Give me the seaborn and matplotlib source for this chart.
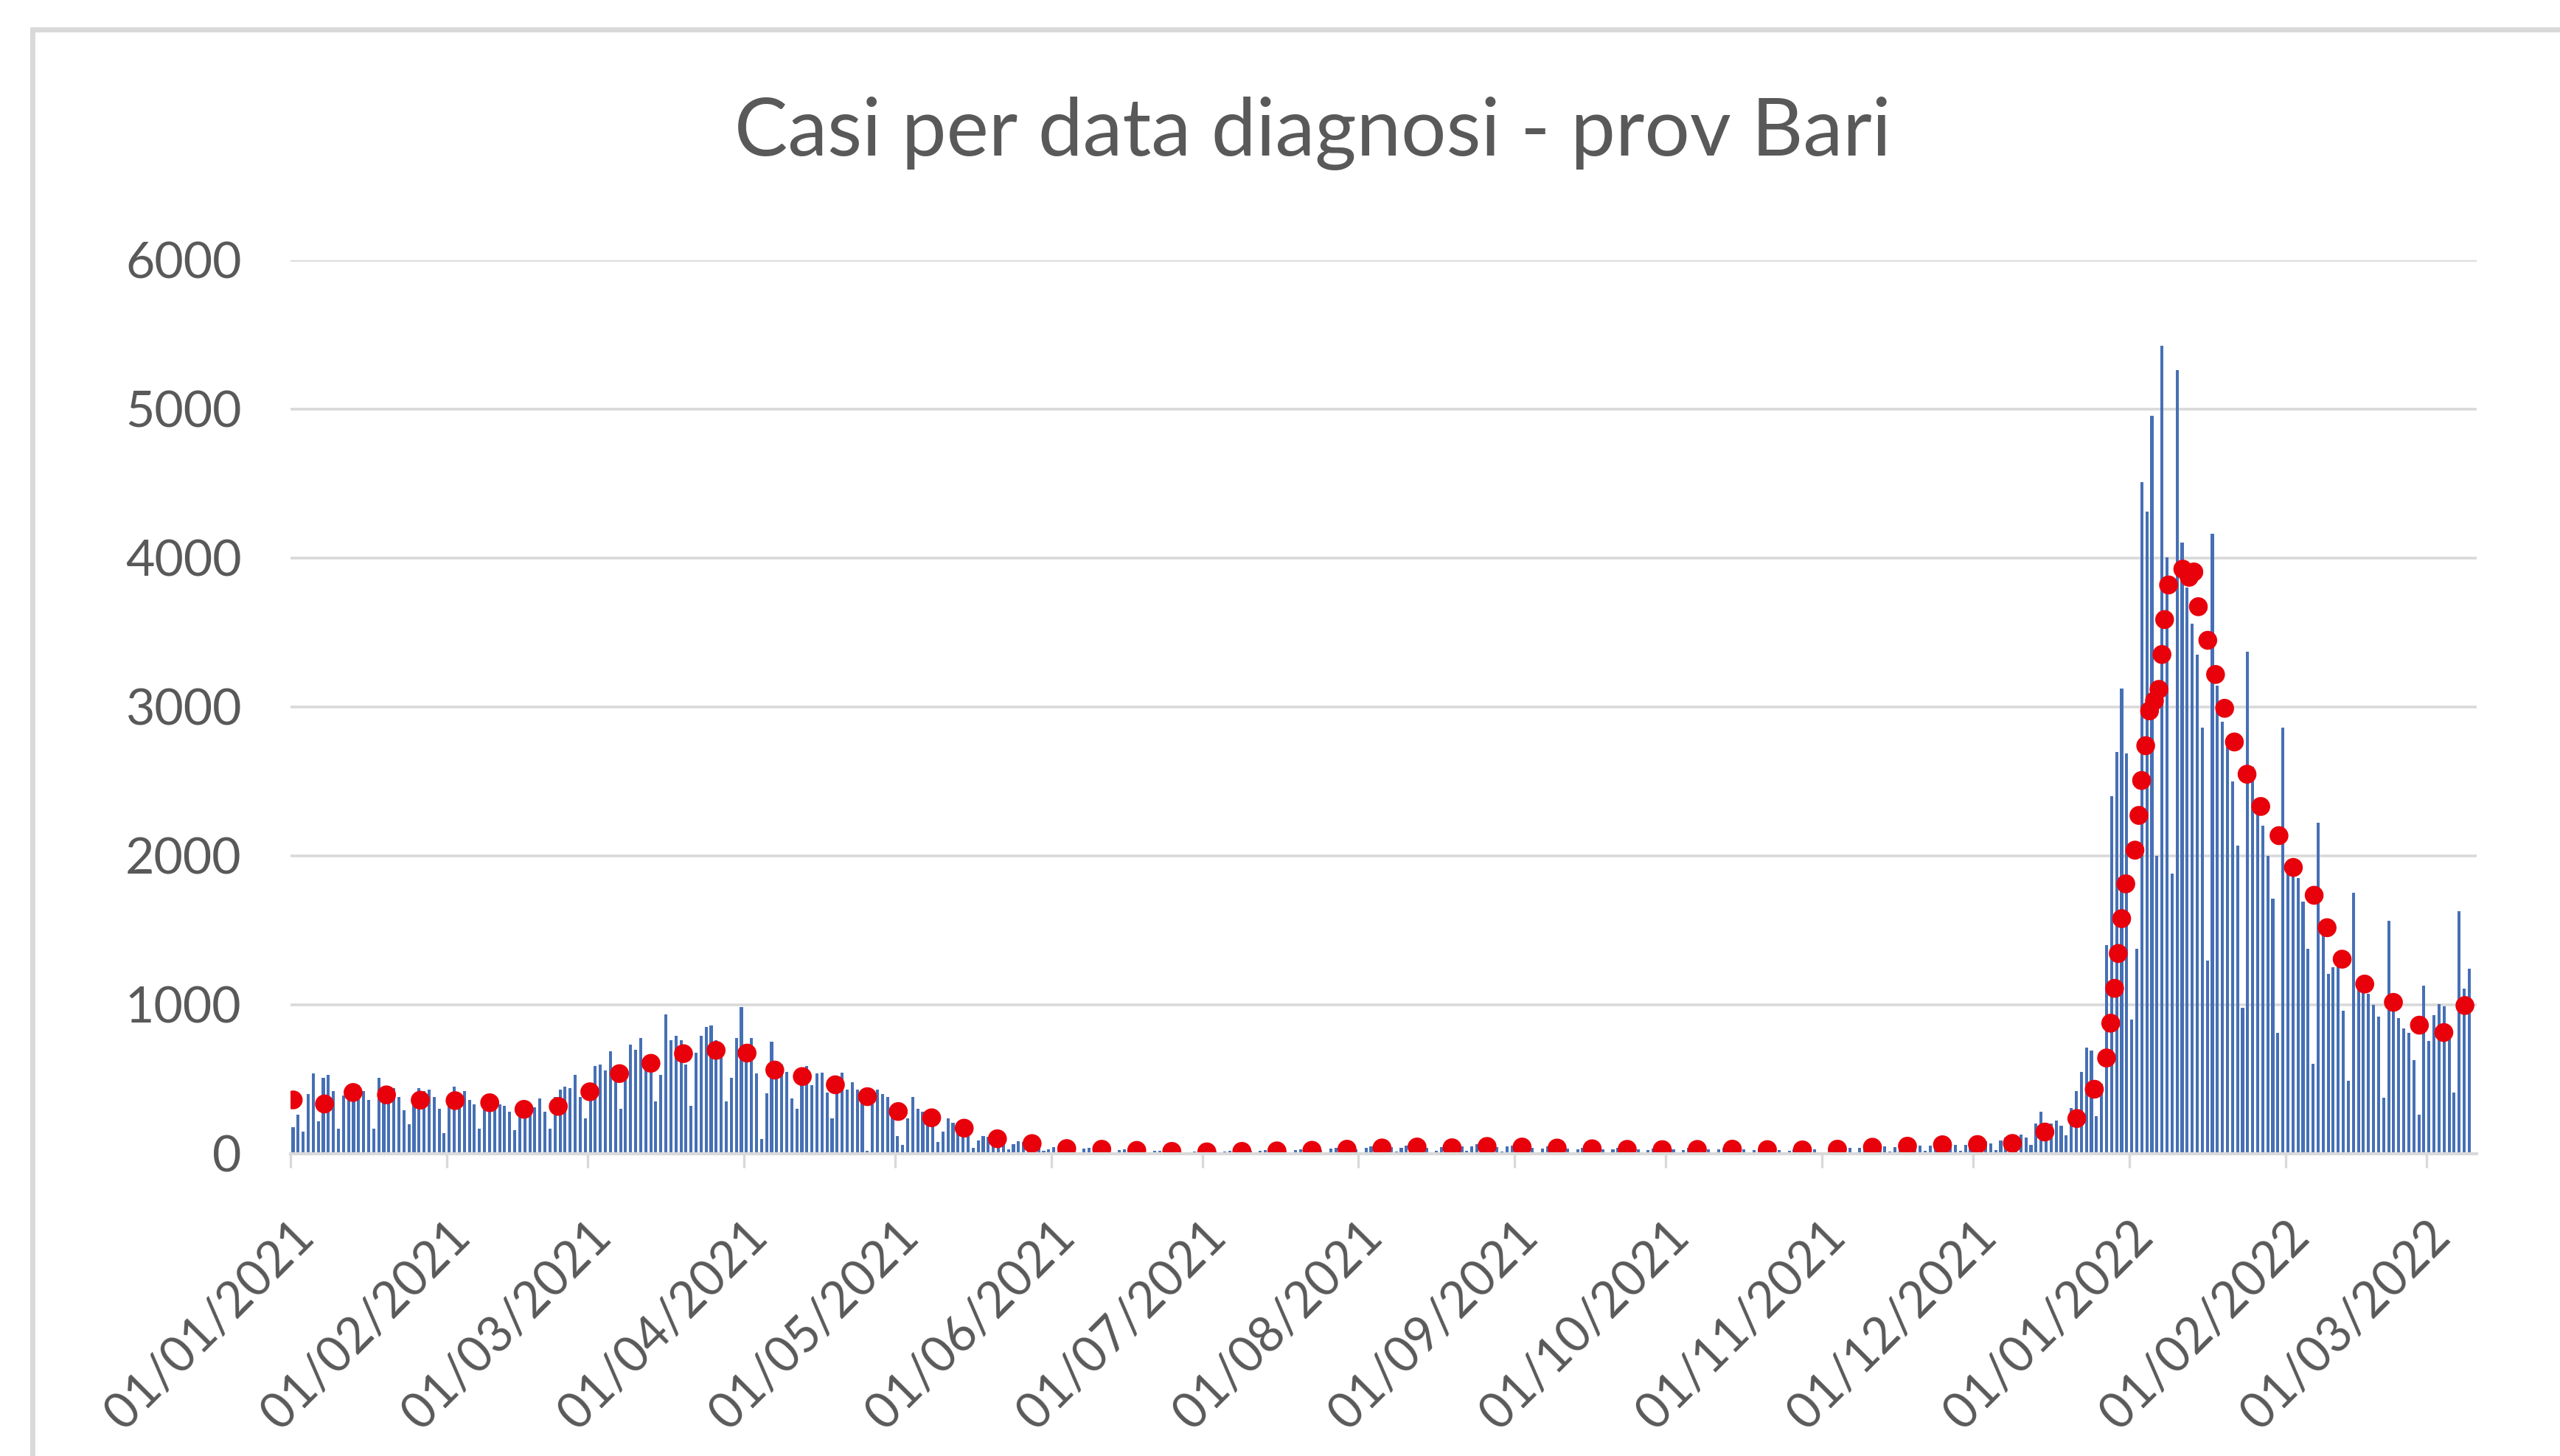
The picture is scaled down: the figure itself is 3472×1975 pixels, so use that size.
import numpy as np
import pandas as pd
import matplotlib
matplotlib.use("Agg")
import matplotlib.pyplot as plt
from matplotlib.patches import Rectangle
import seaborn as sns

# casi giornalieri per data diagnosi - prov. Bari
coda_dic20 = [250, 200, 450, 520, 480, 450]  # 26-31/12/2020, serve solo alla media mobile
gen21 = [180, 260, 150, 400, 540, 220, 510, 530, 420, 170, 390, 430, 450, 460, 420, 360,
         170, 510, 430, 390, 440, 380, 290, 200, 370, 440, 420, 430, 380, 300, 140]
feb21 = [380, 450, 400, 420, 360, 330, 170, 340, 380, 360, 330, 320, 280, 160, 300, 330,
         320, 310, 370, 280, 170, 380, 430, 450, 440, 530, 380, 240]
mar21 = [450, 590, 600, 560, 690, 590, 300, 540, 735, 700, 775, 640, 560, 350, 530, 935,
         760, 790, 760, 600, 320, 680, 790, 850, 860, 760, 700, 350, 510, 775, 985]
apr21 = [650, 775, 540, 100, 405, 750, 550, 600, 550, 370, 300, 525, 590, 460, 540, 545,
         410, 240, 420, 545, 430, 480, 430, 360, 20, 330, 430, 400, 380, 300]
mag21 = [120, 60, 240, 380, 300, 280, 250, 200, 80, 150, 240, 210, 180, 160, 120, 40,
         90, 120, 115, 100, 110, 75, 30, 65, 85, 80, 70, 60, 45, 20, 30]
giu21 = [45, 20, 40, 35, 30, 10, 35, 40, 30, 35, 28, 25, 8, 25, 30, 25, 22, 20, 15, 6,
         18, 20, 18, 15, 14, 12, 4, 12, 15, 14]
lug21 = [18, 20, 15, 5, 15, 18, 20, 19, 22, 18, 6, 20, 24, 22, 23, 26, 20, 7, 24, 28,
         30, 28, 30, 25, 10, 34, 38, 36, 40, 38, 30]
ago21 = [12, 38, 50, 55, 48, 52, 45, 15, 40, 55, 60, 52, 50, 40, 12, 20, 45, 60, 55, 58,
         48, 18, 50, 62, 58, 55, 52, 45, 15, 48, 55]
set21 = [52, 50, 45, 40, 12, 35, 48, 45, 42, 40, 35, 10, 30, 42, 40, 38, 36, 30, 8, 28,
         38, 35, 34, 32, 28, 8, 25, 35, 33, 30]
ott21 = [32, 28, 9, 25, 38, 36, 40, 35, 30, 8, 28, 40, 38, 36, 34, 28, 7, 25, 35, 33,
         30, 30, 25, 6, 22, 32, 35, 33, 36, 30, 10]
nov21 = [12, 40, 48, 45, 50, 42, 12, 38, 55, 58, 60, 55, 50, 15, 45, 65, 62, 70, 68, 55,
         18, 55, 75, 78, 80, 72, 60, 20, 60, 85]
dic21 = [58, 80, 83, 70, 25, 90, 110, 17, 120, 130, 110, 60, 205, 283, 145, 205, 225, 190,
         125, 305, 420, 550, 713, 695, 250, 470, 1400, 2400, 2700, 3126, 2690]
gen22 = [900, 1375, 4510, 4313, 4953, 2000, 5424, 4004, 1883, 5262, 4105, 3800, 3559, 3352,
         2862, 1299, 4162, 3145, 2900, 2787, 2500, 2071, 980, 3371, 2600, 2373, 2203, 2000,
         1714, 810, 2863]
feb22 = [1921, 1978, 1850, 1695, 1375, 603, 2223, 1507, 1206, 1250, 1300, 961, 490, 1752,
         1168, 1100, 1074, 1000, 923, 377, 1564, 1074, 909, 840, 813, 628, 262, 1129]
mar22 = [758, 931, 1006, 992, 840, 413, 1631, 1110, 1240]

mesi = [gen21, feb21, mar21, apr21, mag21, giu21, lug21, ago21, set21, ott21, nov21,
        dic21, gen22, feb22, mar22]
casi = np.array(sum(mesi, []))
inizio = pd.Timestamp("2021-01-01")

# media mobile 7 giorni
media7 = pd.Series(coda_dic20 + list(casi)).rolling(7).mean().to_numpy()[len(coda_dic20):]

df = pd.DataFrame({"giorno": np.arange(len(casi)), "casi": casi, "media": media7})

sns.set_theme(style="white")
plt.rcParams["font.family"] = ["Lato", "DejaVu Sans"]

grigio = "#595959"
fig = plt.figure(figsize=(17.36, 9.875), dpi=200)
ax = fig.add_axes([0.1135, 0.2076, 0.854, 0.6137])

sns.barplot(data=df, x="giorno", y="casi", color="#4670B5", saturation=1,
            width=0.6, errorbar=None, ax=ax, edgecolor="none", linewidth=0)
sns.lineplot(data=df, x="giorno", y="media", ax=ax, color="#E8000B", lw=9.2,
             linestyle=(0, (0.01, 1.85)), dash_capstyle="round")

ax.set_xlim(-0.5, len(casi) + 0.5)
ax.set_ylim(0, 6000)
ax.set_yticks(range(0, 6001, 1000))

inizi_mese = pd.date_range("2021-01-01", "2022-03-01", freq="MS")
pos = [(d - inizio).days - 0.5 for d in inizi_mese]
ax.set_xticks(pos, [d.strftime("%d/%m/%Y") for d in inizi_mese],
              rotation=45, ha="right", rotation_mode="anchor")

ax.set_xlabel("")
ax.set_ylabel("")
ax.grid(axis="y", color="#D9D9D9", lw=1.3)
ax.grid(axis="x", visible=False)
ax.set_axisbelow(True)
for s in ["left", "right", "top"]:
    ax.spines[s].set_visible(False)
ax.spines["bottom"].set_color("#D9D9D9")
ax.spines["bottom"].set_linewidth(1.5)

ax.tick_params(axis="x", bottom=True, length=7, width=1.2, color="#D9D9D9",
               pad=22, labelsize=24, labelcolor=grigio)
ax.tick_params(axis="y", left=False, length=0, pad=24, labelsize=24.5,
               labelcolor=grigio)

fig.text(0.5127, 0.9085, "Casi per data diagnosi - prov Bari", ha="center",
         va="center", fontsize=39, color=grigio)

# bordo dell'area grafico
fig.patches.append(Rectangle((44 / 3472, -0.1), 1.2, 1.1 - 40 / 1975,
                             transform=fig.transFigure, fill=False,
                             ec="#D9D9D9", lw=2.5))

fig.savefig("out.png", dpi=200)
